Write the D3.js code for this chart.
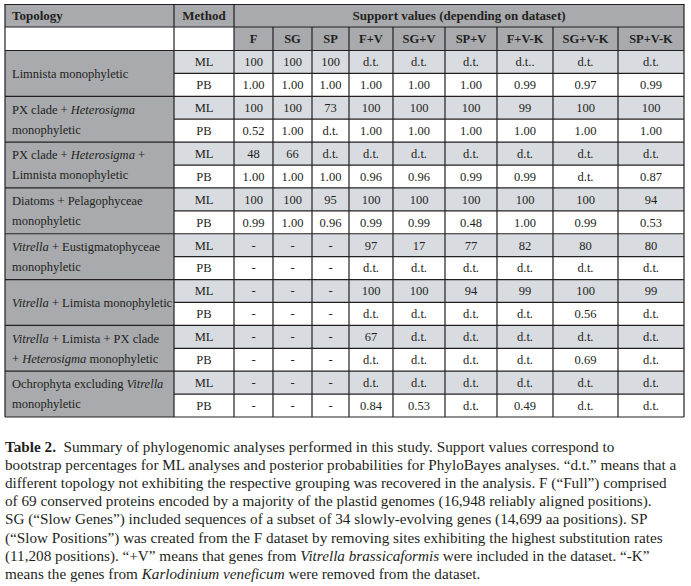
<!DOCTYPE html>
<html lang="en">
<head>
  <meta charset="utf-8">
  <title>Table 2</title>
  <style>
    body { margin: 0; background: #fff; }
    text { font-family: "Liberation Serif", "DejaVu Serif", serif; fill: #231f20; }
  </style>
</head>
<body>
<svg width="691" height="586"></svg>
<script src="https://d3js.org/d3.v7.min.js"></script>
<script>
  // ---- data ----
  var datasets = ["F", "SG", "SP", "F+V", "SG+V", "SP+V", "F+V-K", "SG+V-K", "SP+V-K"];
  var methods = ["ML", "PB"];
  // "*...*" = italic, "|" = line break
  var topologies = [
    "Limnista monophyletic",
    "PX clade + *Heterosigma*|monophyletic",
    "PX clade + *Heterosigma* +|Limnista monophyletic",
    "Diatoms + Pelagophyceae|monophyletic",
    "*Vitrella* + Eustigmatophyceae|monophyletic",
    "*Vitrella* + Limista monophyletic",
    "*Vitrella* + Limista + PX clade|+ *Heterosigma* monophyletic",
    "Ochrophyta excluding *Vitrella*|monophyletic"
  ];
  var mlValues = [
    ["100", "100", "100", "d.t.", "d.t.", "d.t.", "d.t..", "d.t.", "d.t."],
    ["100", "100", "73", "100", "100", "100", "99", "100", "100"],
    ["48", "66", "d.t.", "d.t.", "d.t.", "d.t.", "d.t.", "d.t.", "d.t."],
    ["100", "100", "95", "100", "100", "100", "100", "100", "94"],
    ["-", "-", "-", "97", "17", "77", "82", "80", "80"],
    ["-", "-", "-", "100", "100", "94", "99", "100", "99"],
    ["-", "-", "-", "67", "d.t.", "d.t.", "d.t.", "d.t.", "d.t."],
    ["-", "-", "-", "d.t.", "d.t.", "d.t.", "d.t.", "d.t.", "d.t."]
  ];
  var pbValues = [
    ["1.00", "1.00", "1.00", "1.00", "1.00", "1.00", "0.99", "0.97", "0.99"],
    ["0.52", "1.00", "d.t.", "1.00", "1.00", "1.00", "1.00", "1.00", "1.00"],
    ["1.00", "1.00", "1.00", "0.96", "0.96", "0.99", "0.99", "d.t.", "0.87"],
    ["0.99", "1.00", "0.96", "0.99", "0.99", "0.48", "1.00", "0.99", "0.53"],
    ["-", "-", "-", "d.t.", "d.t.", "d.t.", "d.t.", "d.t.", "d.t."],
    ["-", "-", "-", "d.t.", "d.t.", "d.t.", "d.t.", "0.56", "d.t."],
    ["-", "-", "-", "d.t.", "d.t.", "d.t.", "d.t.", "0.69", "d.t."],
    ["-", "-", "-", "0.84", "0.53", "d.t.", "0.49", "d.t.", "d.t."]
  ];
  var headerTitles = ["Topology", "Method", "Support values (depending on dataset)"];
  var captionLines = [
    "**Table 2.**  Summary of phylogenomic analyses performed in this study. Support values correspond to",
    "bootstrap percentages for ML analyses and posterior probabilities for PhyloBayes analyses. \u201cd.t.\u201d means that a",
    "different topology not exhibiting the respective grouping was recovered in the analysis. F (\u201cFull\u201d) comprised",
    "of 69 conserved proteins encoded by a majority of the plastid genomes (16,948 reliably aligned positions).",
    "SG (\u201cSlow Genes\u201d) included sequences of a subset of 34 slowly-evolving genes (14,699 aa positions). SP",
    "(\u201cSlow Positions\u201d) was created from the F dataset by removing sites exhibiting the highest substitution rates",
    "(11,208 positions). \u201c+V\u201d means that genes from *Vitrella brassicaformis* were included in the dataset. \u201c-K\u201d",
    "means the genes from *Karlodinium veneficum* were removed from the dataset."
  ];

  // ---- layout ----
  var svg = d3.select("svg");
  var tLeft = 5, tRight = 684, tTop = 4.5, head1 = 27, head2 = 50.5, tBottom = 417;
  var colWidths = [169, 60, 39, 39, 37, 44, 52, 52, 56, 65, 66];
  var colKeys = ["topology", "method"].concat(datasets);
  var edges = Array.from(d3.cumsum([tLeft].concat(colWidths)));
  var x = d3.scaleOrdinal().domain(colKeys).range(edges.slice(0, -1));
  var w = d3.scaleOrdinal().domain(colKeys).range(colWidths);

  var rows = [];
  topologies.forEach(function(t, g) {
    methods.forEach(function(m) {
      rows.push({group: g, method: m, values: m === "ML" ? mlValues[g] : pbValues[g]});
    });
  });
  var y = d3.scaleBand().domain(d3.range(rows.length)).range([head2, tBottom]).padding(0);

  var darkGray = "#a8aaad", lightGray = "#d8dce0", lineColor = "#231f20";

  // backgrounds
  svg.append("rect").attr("x", tLeft).attr("y", tTop).attr("width", tRight - tLeft).attr("height", head1 - tTop).attr("fill", darkGray);
  svg.append("rect").attr("x", x("F")).attr("y", head1).attr("width", tRight - x("F")).attr("height", head2 - head1).attr("fill", darkGray);

  svg.selectAll(".topo-bg").data(topologies).enter().append("rect")
    .attr("x", tLeft).attr("y", function(d, i) { return y(i * 2); })
    .attr("width", w("topology")).attr("height", y.bandwidth() * 2)
    .attr("fill", darkGray);

  svg.selectAll(".row-bg").data(rows).enter().append("rect")
    .attr("x", x("method")).attr("y", function(d, i) { return y(i); })
    .attr("width", tRight - x("method")).attr("height", y.bandwidth())
    .attr("fill", function(d) { return d.method === "ML" ? lightGray : "#fff"; });

  // grid lines
  var lines = svg.append("g").attr("stroke", lineColor).attr("stroke-width", 1.2);
  function hline(yy, x0, x1) { lines.append("line").attr("x1", x0).attr("x2", x1).attr("y1", yy).attr("y2", yy); }
  function vline(xx, y0, y1) { lines.append("line").attr("x1", xx).attr("x2", xx).attr("y1", y0).attr("y2", y1); }
  hline(tTop, tLeft - 0.6, tRight + 0.6);
  hline(head1, tLeft, tRight);
  hline(head2, tLeft, tRight);
  rows.forEach(function(r, i) {
    var yy = y(i) + y.bandwidth();
    if (r.method === "ML") hline(yy, x("method"), tRight);
    else hline(yy, tLeft, tRight);
  });
  vline(tLeft, tTop, tBottom);
  vline(tRight, tTop, tBottom);
  vline(x("method"), tTop, tBottom);
  vline(x("F"), tTop, tBottom);
  datasets.slice(1).forEach(function(k) { vline(x(k), head1, tBottom); });

  // rich text helper
  function addRich(sel, str) {
    str.split(/(\*\*[^*]+\*\*|\*[^*]+\*)/).forEach(function(part) {
      if (!part) return;
      var ts = sel.append("tspan");
      if (part.indexOf("**") === 0) ts.attr("font-weight", "bold").text(part.slice(2, -2));
      else if (part.indexOf("*") === 0) ts.attr("font-style", "italic").text(part.slice(1, -1));
      else ts.text(part);
    });
  }

  // header text
  var hy = (tTop + head1) / 2;
  svg.append("text").attr("x", tLeft + 7).attr("y", hy).attr("dy", "0.35em")
    .attr("font-size", 13).attr("font-weight", "bold").text(headerTitles[0]);
  svg.append("text").attr("x", x("method") + w("method") / 2).attr("y", hy).attr("dy", "0.35em")
    .attr("text-anchor", "middle").attr("font-size", 13).attr("font-weight", "bold").text(headerTitles[1]);
  svg.append("text").attr("x", (x("F") + tRight) / 2).attr("y", hy).attr("dy", "0.35em")
    .attr("text-anchor", "middle").attr("font-size", 13).attr("font-weight", "bold").text(headerTitles[2]);

  svg.selectAll(".ds-label").data(datasets).enter().append("text")
    .attr("x", function(d) { return x(d) + w(d) / 2; })
    .attr("y", (head1 + head2) / 2).attr("dy", "0.35em")
    .attr("text-anchor", "middle").attr("font-size", 12.5).attr("font-weight", "bold")
    .text(function(d) { return d; });

  // topology labels
  svg.selectAll(".topo").data(topologies).enter().append("text")
    .attr("font-size", 12.5)
    .each(function(d, i) {
      var parts = d.split("|");
      var cy = y(i * 2) + y.bandwidth();
      var t = d3.select(this);
      parts.forEach(function(p, j) {
        var line = t.append("tspan").attr("x", tLeft + 7)
          .attr("y", cy + (j - (parts.length - 1) / 2) * 20).attr("dy", "0.35em");
        addRich(line, p);
      });
    });

  // method + values
  var rowG = svg.selectAll(".row").data(rows).enter().append("g")
    .attr("transform", function(d, i) { return "translate(0," + (y(i) + y.bandwidth() / 2) + ")"; });
  rowG.append("text")
    .attr("x", x("method") + w("method") / 2).attr("dy", "0.35em")
    .attr("text-anchor", "middle").attr("font-size", 12.5)
    .text(function(d) { return d.method; });
  rowG.selectAll(".val").data(function(d) { return d.values; }).enter().append("text")
    .attr("x", function(d, i) { return x(datasets[i]) + w(datasets[i]) / 2; })
    .attr("dy", "0.35em").attr("text-anchor", "middle").attr("font-size", 12.5)
    .text(function(d) { return d; });

  // caption
  var cap = svg.append("text").attr("font-size", 15.2);
  captionLines.forEach(function(l, i) {
    var line = cap.append("tspan").attr("x", tLeft).attr("y", 452 + i * 18.1).attr("xml:space", "preserve");
    addRich(line, l);
  });
</script>
</body>
</html>
